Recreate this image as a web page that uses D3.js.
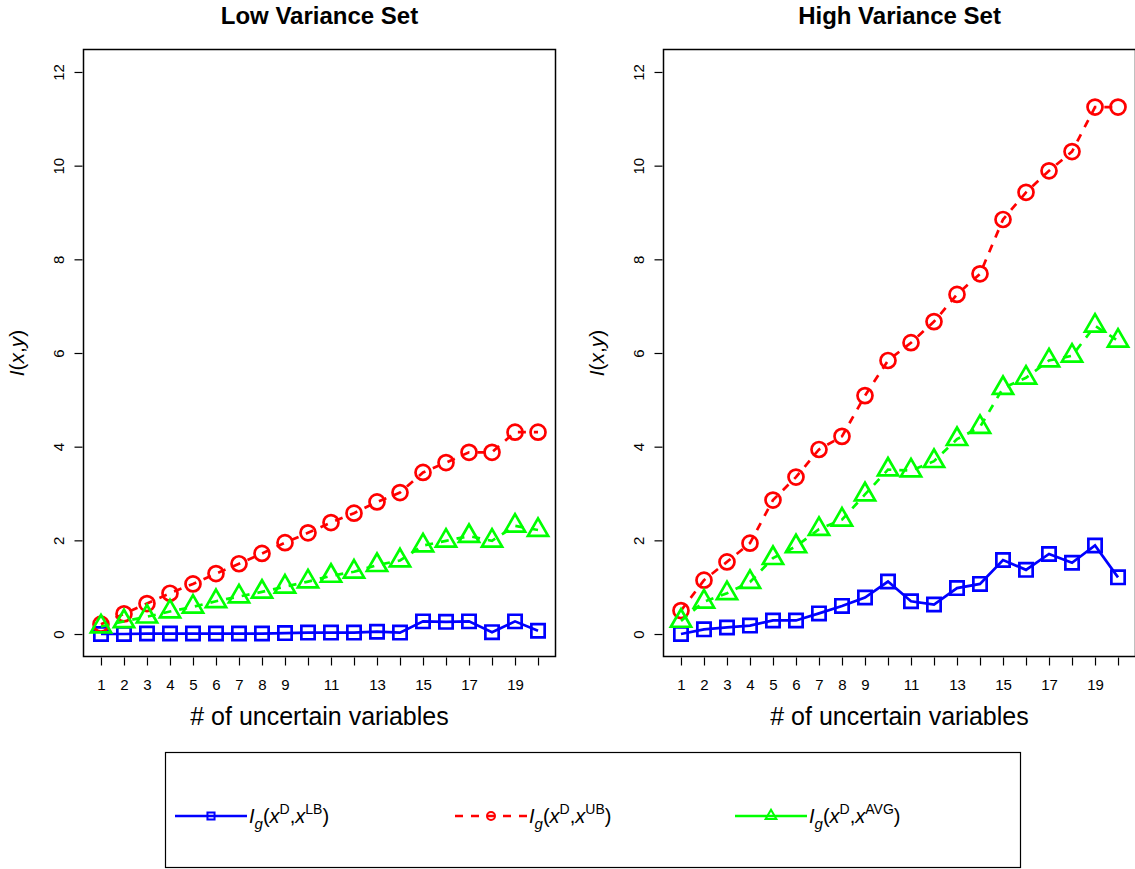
<!DOCTYPE html>
<html>
<head>
<meta charset="utf-8">
<script src="https://cdn.jsdelivr.net/npm/d3@7"></script>
<style>
  html, body { margin: 0; padding: 0; background: #fff; }
  svg { display: block; font-family: "Liberation Sans", Arial, Helvetica, sans-serif; }
</style>
</head>
<body>
<svg id="chart" width="1135" height="869"></svg>
<script>
// Number of uncertain variables (x positions)
const nVars = [1,2,3,4,5,6,7,8,9,10,11,12,13,14,15,16,17,18,19,20];
const xTickLabels = [1,2,3,4,5,6,7,8,9,11,13,15,17,19];
const yTicks = [0,2,4,6,8,10,12];

// Low variance set
const lowLB  = [0.00,0.00,0.01,0.01,0.01,0.01,0.01,0.01,0.02,0.03,0.03,0.03,0.05,0.03,0.27,0.26,0.27,0.04,0.27,0.07];
const lowUB  = [0.21,0.43,0.65,0.87,1.07,1.29,1.50,1.72,1.95,2.16,2.38,2.58,2.82,3.02,3.45,3.66,3.88,3.88,4.31,4.31];
const lowAVG = [0.16,0.27,0.37,0.48,0.58,0.70,0.80,0.90,1.01,1.12,1.24,1.33,1.47,1.57,1.89,1.99,2.09,1.99,2.31,2.22];

// High variance set
const highLB  = [0.00,0.10,0.14,0.18,0.29,0.29,0.44,0.60,0.78,1.12,0.70,0.63,0.98,1.07,1.58,1.37,1.71,1.52,1.89,1.21];
const highUB  = [0.50,1.15,1.54,1.94,2.86,3.35,3.94,4.22,5.09,5.84,6.22,6.67,7.25,7.69,8.85,9.43,9.89,10.30,11.25,11.25];
const highAVG = [0.28,0.69,0.87,1.11,1.62,1.87,2.24,2.44,2.98,3.51,3.49,3.69,4.16,4.42,5.25,5.47,5.84,5.94,6.58,6.26];

const panelTitles = ["Low Variance Set", "High Variance Set"];
const xLabel = "# of uncertain variables";

const svg = d3.select("#chart");

const colors = { LB: "#0000ff", UB: "#ff0000", AVG: "#00ff00" };
const markerR = 7.5;
const lineW = 2.7;

// R-style open plotting symbols centred on (0,0)
function symbolPath(kind, r) {
  if (kind === "square") {
    const h = r * 0.886;
    return `M${-h},${-h}H${h}V${h}H${-h}Z`;
  }
  if (kind === "triangle") {
    const t0 = Math.sqrt(4 * Math.PI / (3 * Math.sqrt(3)));
    const top = t0 * r, xc = t0 * Math.sqrt(3) / 2 * r, yc = t0 / 2 * r;
    return `M0,${-top}L${xc},${yc}L${-xc},${yc}Z`;
  }
  return null;
}

function drawMarker(g, kind, x, y, r, color, sw) {
  if (kind === "circle") {
    g.append("circle").attr("cx", x).attr("cy", y).attr("r", r)
      .attr("fill", "none").attr("stroke", color).attr("stroke-width", sw);
  } else {
    g.append("path").attr("d", symbolPath(kind, r))
      .attr("transform", `translate(${x},${y})`)
      .attr("fill", "none").attr("stroke", color).attr("stroke-width", sw);
  }
}

function drawPanel(left, title, series) {
  const top = 49.5, bottom = 656.5, width = 472;
  const right = left + width;

  // R default axis extension of 4% on each side
  const x = d3.scaleLinear().domain([1 - 0.76, 20 + 0.76]).range([left, right]);
  const y = d3.scaleLinear().domain([-0.48, 12.48]).range([bottom, top]);

  const g = svg.append("g");

  // Title
  g.append("text")
    .attr("x", (left + right) / 2).attr("y", 24)
    .attr("text-anchor", "middle")
    .attr("font-size", 24).attr("font-weight", "bold")
    .text(title);

  // Series lines and points
  const line = d3.line().x((d, i) => x(nVars[i])).y(d => y(d));
  series.forEach(s => {
    g.append("path").datum(s.values)
      .attr("d", line)
      .attr("fill", "none")
      .attr("stroke", s.color)
      .attr("stroke-width", lineW)
      .attr("stroke-dasharray", s.dash || null);
    s.values.forEach((v, i) => drawMarker(g, s.marker, x(nVars[i]), y(v), markerR, s.color, lineW));
  });

  // Box
  g.append("rect")
    .attr("x", left).attr("y", top)
    .attr("width", width).attr("height", bottom - top)
    .attr("fill", "none").attr("stroke", "#000").attr("stroke-width", 1.5);

  // X axis ticks (every variable), labels where they fit
  const xAxis = d3.axisBottom(x).tickValues(nVars).tickSize(8).tickPadding(14)
    .tickFormat(d => xTickLabels.includes(d) ? String(d) : "");
  const gx = g.append("g").attr("transform", `translate(0,${bottom + 1})`).call(xAxis);
  gx.select(".domain").remove();
  gx.selectAll("line").attr("stroke", "#000").attr("stroke-width", 1.2);
  gx.selectAll("text").attr("font-size", 15).attr("fill", "#000")
    .attr("font-family", "Liberation Sans, Arial, sans-serif");

  // Y axis ticks with labels parallel to the axis
  const yAxis = d3.axisLeft(y).tickValues(yTicks).tickSize(8).tickFormat(d => String(d));
  const gy = g.append("g").attr("transform", `translate(${left - 1},0)`).call(yAxis);
  gy.select(".domain").remove();
  gy.selectAll("line").attr("stroke", "#000").attr("stroke-width", 1.2);
  gy.selectAll("text").remove();
  gy.selectAll(".tick").append("text")
    .attr("transform", "translate(-24,0) rotate(-90)")
    .attr("text-anchor", "middle")
    .attr("dy", "0.35em")
    .attr("font-size", 15).attr("fill", "#000")
    .text(d => String(d));

  // X axis title
  g.append("text")
    .attr("x", (left + right) / 2).attr("y", 725)
    .attr("text-anchor", "middle")
    .attr("font-size", 25)
    .text(xLabel);

  // Y axis title: I(x,y)
  const yl = g.append("text")
    .attr("transform", `translate(${left - 67},${(top + bottom) / 2}) rotate(-90)`)
    .attr("text-anchor", "middle")
    .attr("dy", "0.35em")
    .attr("font-size", 21);
  yl.append("tspan").attr("font-style", "italic").text("I");
  yl.append("tspan").text("(");
  yl.append("tspan").attr("font-style", "italic").text("x");
  yl.append("tspan").text(",");
  yl.append("tspan").attr("font-style", "italic").text("y");
  yl.append("tspan").text(")");
}

drawPanel(83.5, panelTitles[0], [
  { values: lowLB,  color: colors.LB,  marker: "square" },
  { values: lowUB,  color: colors.UB,  marker: "circle",   dash: "8,8" },
  { values: lowAVG, color: colors.AVG, marker: "triangle", dash: "8,8" }
]);
drawPanel(663.5, panelTitles[1], [
  { values: highLB,  color: colors.LB,  marker: "square" },
  { values: highUB,  color: colors.UB,  marker: "circle",   dash: "8,8" },
  { values: highAVG, color: colors.AVG, marker: "triangle", dash: "8,8" }
]);

// Legend
const legendItems = [
  { sup: "LB",  color: colors.LB,  marker: "square",   dash: null,  x0: 175 },
  { sup: "UB",  color: colors.UB,  marker: "circle",   dash: "8,8", x0: 455 },
  { sup: "AVG", color: colors.AVG, marker: "triangle", dash: null,  x0: 735 }
];
const lg = svg.append("g");
lg.append("rect").attr("x", 165.5).attr("y", 752.5).attr("width", 855).attr("height", 115)
  .attr("fill", "none").attr("stroke", "#000").attr("stroke-width", 1.2);
const ly = 816;
legendItems.forEach(it => {
  lg.append("line").attr("x1", it.x0).attr("x2", it.x0 + 72).attr("y1", ly).attr("y2", ly)
    .attr("stroke", it.color).attr("stroke-width", 2.5).attr("stroke-dasharray", it.dash);
  drawMarker(lg, it.marker, it.x0 + 36, ly, 4, it.color, 2);
  const t = lg.append("text").attr("x", it.x0 + 74).attr("y", ly + 7).attr("font-size", 20);
  t.append("tspan").attr("font-style", "italic").text("I");
  t.append("tspan").attr("font-style", "italic").attr("font-size", 15).attr("dy", 6).text("g");
  t.append("tspan").attr("dy", -6).text("(");
  t.append("tspan").attr("font-style", "italic").text("x");
  t.append("tspan").attr("font-size", 14).attr("dy", -9).text("D");
  t.append("tspan").attr("dy", 9).text(",");
  t.append("tspan").attr("font-style", "italic").text("x");
  t.append("tspan").attr("font-size", 14).attr("dy", -9).text(it.sup);
  t.append("tspan").attr("dy", 9).text(")");
});
</script>
</body>
</html>
